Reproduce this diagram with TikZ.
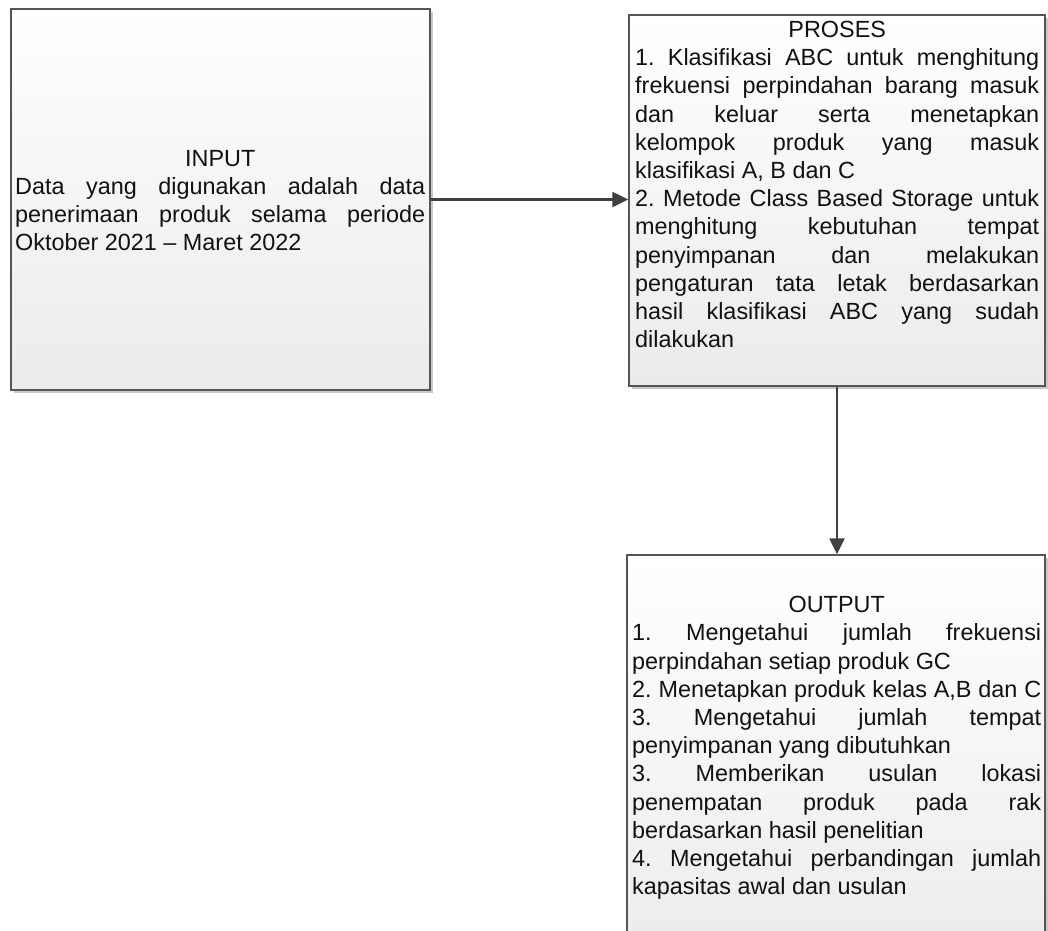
\documentclass[tikz,border=0pt]{standalone}
\usepackage{fontspec}
\setmainfont{Liberation Sans}
\usetikzlibrary{shadows,arrows.meta}
\definecolor{boxline}{HTML}{555555}
\definecolor{boxbot}{HTML}{EBEBEB}
\definecolor{arrowc}{HTML}{404040}
\definecolor{txt}{HTML}{111111}
\definecolor{shadowc}{HTML}{C8C8C8}
\newcommand{\jline}[1]{\makebox[\linewidth][s]{\spaceskip=0pt\xspaceskip=0pt\frenchspacing #1}}
\newcommand{\lline}[1]{\mbox{\spaceskip=0pt\xspaceskip=0pt\frenchspacing #1}}
\newcommand{\ctitle}[1]{\makebox[\linewidth][c]{#1}}
\begin{document}
\begin{tikzpicture}[x=1pt,y=-1pt,
  box/.style={draw=boxline, line width=1.4pt, rectangle, inner sep=0pt,
    top color=white, bottom color=boxbot,
    drop shadow={shadow xshift=3pt, shadow yshift=-3pt, fill=shadowc, opacity=1}},
  txtblock/.style={anchor=north west, inner sep=0pt, align=left, text=txt,
    font=\fontsize{23.4}{28.2}\selectfont\frenchspacing},
  conn/.style={draw=arrowc, line width=2.4pt, -{Triangle[length=16pt,width=15pt]}}]
\useasboundingbox (0,0) rectangle (1048,930);
\clip (0,0) rectangle (1048,930);
\fill[white] (0,0) rectangle (1048,930);

\node[box, minimum width=419pt, minimum height=381pt] (input) at (220.5,199.5) {};
\node[box, minimum width=416pt, minimum height=371pt] (proses) at (837,200.5) {};
\node[box, minimum width=418pt, minimum height=420pt] (output) at (836,765) {};

\node[txtblock, text width=410pt] (inputtext) at (15,146) {\rule{0pt}{20pt}\ctitle{INPUT}\\
\jline{Data yang digunakan adalah data}\\
\jline{penerimaan produk selama periode}\\
\lline{Oktober 2021 – Maret 2022}};

\node[txtblock, text width=404pt] (prosestext) at (635,17.3) {\rule{0pt}{20pt}\ctitle{PROSES}\\
\jline{1. Klasifikasi ABC untuk menghitung}\\
\jline{frekuensi perpindahan barang masuk}\\
\jline{dan keluar serta menetapkan}\\
\jline{kelompok produk yang masuk}\\
\lline{klasifikasi A, B dan C}\\
\jline{2. Metode Class Based Storage untuk}\\
\jline{menghitung kebutuhan tempat}\\
\jline{penyimpanan dan melakukan}\\
\jline{pengaturan tata letak berdasarkan}\\
\jline{hasil klasifikasi ABC yang sudah}\\
\lline{dilakukan}};

\node[txtblock, text width=409pt] (outputtext) at (632,592.4) {\rule{0pt}{20pt}\ctitle{OUTPUT}\\
\jline{1. Mengetahui jumlah frekuensi}\\
\lline{perpindahan setiap produk GC}\\
\jline{2. Menetapkan produk kelas A,B dan C}\\
\jline{3. Mengetahui jumlah tempat}\\
\lline{penyimpanan yang dibutuhkan}\\
\jline{3. Memberikan usulan lokasi}\\
\jline{penempatan produk pada rak}\\
\lline{berdasarkan hasil penelitian}\\
\jline{4. Mengetahui perbandingan jumlah}\\
\lline{kapasitas awal dan usulan}};

\draw[conn] (input.east) -- (input.east -| proses.west);
\draw[conn] (proses.south) -- (proses.south |- output.north);
\end{tikzpicture}
\end{document}
